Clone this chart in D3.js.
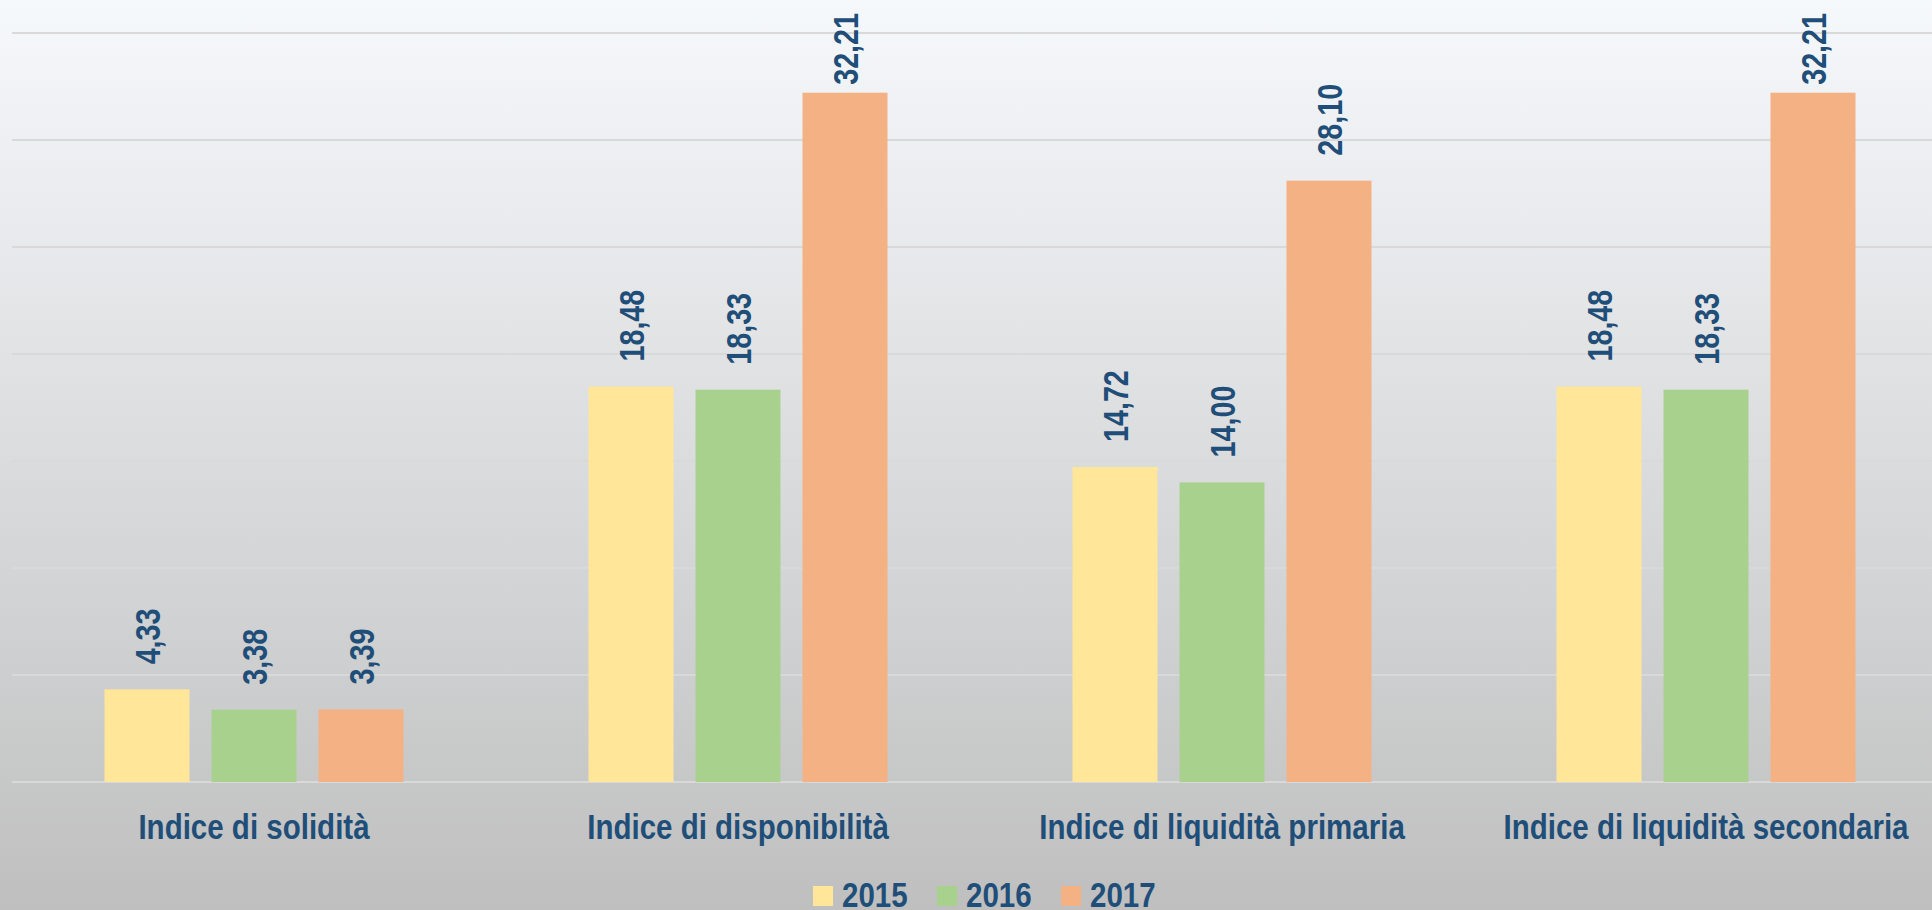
<!DOCTYPE html>
<html>
<head>
<meta charset="utf-8">
<script src="https://cdn.jsdelivr.net/npm/d3@7"></script>
<style>
  html, body { margin: 0; padding: 0; overflow: hidden; }
  body { width: 1932px; height: 910px; }
  text { font-family: "Liberation Sans", Arial, sans-serif; font-weight: bold; fill: #1f4e79; }
</style>
</head>
<body>
<div id="chart-container"></div>
<script>
// chart data
const categories = [
  "Indice di solidità",
  "Indice di disponibilità",
  "Indice di liquidità primaria",
  "Indice di liquidità secondaria"
];
const years = ["2015", "2016", "2017"];
const values2015 = [4.33, 18.48, 14.72, 18.48];
const values2016 = [3.38, 18.33, 14.00, 18.33];
const values2017 = [3.39, 32.21, 28.10, 32.21];
const yTicks = [0, 5, 10, 15, 20, 25, 30, 35];

const colors = ["#ffe699", "#a9d18e", "#f4b183"];

// dimensions
const width = 1932;
const height = 910;
const plot = { left: 12, right: 1948, top: 33, bottom: 782 };
// narrow look: squeeze the bold sans horizontally
const narrow = 0.82;

const svg = d3.select("#chart-container")
  .append("svg")
  .attr("width", width)
  .attr("height", height);

// background gradient
const grad = svg.append("defs").append("linearGradient")
  .attr("id", "bg")
  .attr("x1", 0).attr("y1", 0).attr("x2", 0).attr("y2", 1);
grad.append("stop").attr("offset", "0%").attr("stop-color", "#f6f9fc");
grad.append("stop").attr("offset", "100%").attr("stop-color", "#bfbfbf");

svg.append("rect")
  .attr("width", width)
  .attr("height", height)
  .attr("fill", "url(#bg)");

// scales
const x0 = d3.scaleBand()
  .domain(categories)
  .range([plot.left, plot.right]);

const x1 = d3.scaleBand()
  .domain(years)
  .range([0, 299])
  .paddingInner(22 / 107);

const y = d3.scaleLinear()
  .domain([0, 35])
  .range([plot.bottom, plot.top]);

// gridlines
svg.append("g")
  .selectAll("line")
  .data(yTicks)
  .join("line")
  .attr("x1", plot.left)
  .attr("x2", width)
  .attr("y1", d => y(d))
  .attr("y2", d => y(d))
  .attr("stroke", "#d9d9d9")
  .attr("stroke-width", 2);

// build rows
const rows = [];
categories.forEach((c, i) => {
  [values2015, values2016, values2017].forEach((vals, j) => {
    rows.push({ cat: c, year: years[j], value: vals[i], color: colors[j] });
  });
});

const groupOffset = (x0.bandwidth() - 299) / 2;
const barX = d => x0(d.cat) + groupOffset + x1(d.year);

svg.append("g")
  .selectAll("rect")
  .data(rows)
  .join("rect")
  .attr("x", barX)
  .attr("y", d => y(d.value))
  .attr("width", x1.bandwidth())
  .attr("height", d => y(0) - y(d.value))
  .attr("fill", d => d.color);

// value labels (rotated, kept inside the top of the chart)
const fmt = v => v.toFixed(2).replace(".", ",");
svg.append("g")
  .selectAll("text")
  .data(rows)
  .join("text")
  .attr("dy", "0.36em")
  .style("font-size", "35px")
  .text(d => fmt(d.value))
  .attr("transform", function (d) {
    const len = this.getComputedTextLength() * narrow;
    const start = Math.max(y(d.value) - 25, 13 + len);
    return `translate(${barX(d) + x1.bandwidth() / 2},${start}) rotate(-90) scale(${narrow},1)`;
  });

// category labels
svg.append("g")
  .selectAll("text")
  .data(categories)
  .join("text")
  .attr("transform", d => `translate(${x0(d) + x0.bandwidth() / 2},839) scale(${narrow},1)`)
  .attr("text-anchor", "middle")
  .style("font-size", "36px")
  .text(d => d);

// legend
const legend = svg.append("g")
  .selectAll("g")
  .data(years)
  .join("g")
  .attr("transform", (d, i) => `translate(${813 + i * 124},0)`);

legend.append("rect")
  .attr("y", 886)
  .attr("width", 20)
  .attr("height", 20)
  .attr("fill", (d, i) => colors[i]);

legend.append("text")
  .attr("transform", `translate(29,907) scale(${narrow},1)`)
  .style("font-size", "36px")
  .text(d => d);
</script>
</body>
</html>
